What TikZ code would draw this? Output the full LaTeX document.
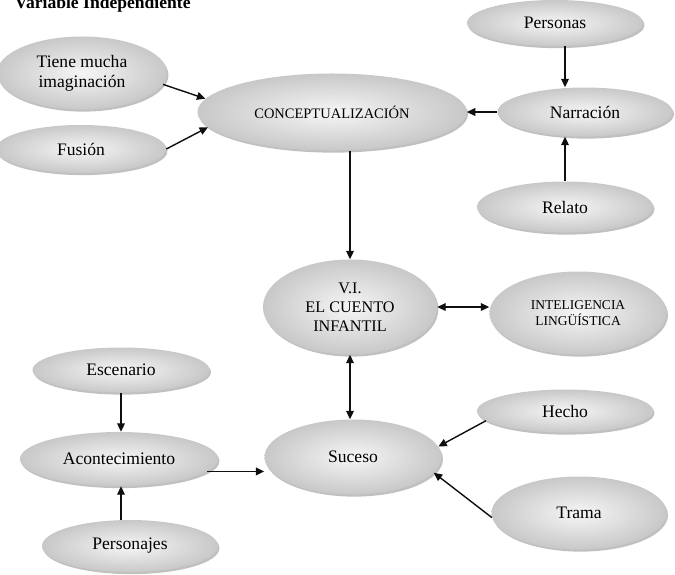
\documentclass[tikz,border=0pt]{standalone}
\usepackage{fontspec}
\setmainfont{Liberation Serif}
\usepackage{tikz}
\usetikzlibrary{shapes.geometric, arrows.meta, shadows}
\definecolor{mydark}{RGB}{15,15,15}
\definecolor{ballin}{RGB}{246,246,246}
\definecolor{ballout}{RGB}{200,200,200}
\definecolor{ballshadow}{RGB}{140,140,140}
\tikzset{
  bubble/.style={ellipse, inner color=ballin, outer color=ballout,
    drop shadow={shadow xshift=1pt, shadow yshift=-1.5pt, fill=ballshadow, opacity=0.55},
    align=center, inner sep=0pt, font=\fontsize{12.5}{14}\selectfont},
  arrow/.style={-{Triangle[length=6pt, width=5.5pt]}, line width=1pt, color=mydark},
  dblarrow/.style={{Triangle[length=6pt, width=5.5pt]}-{Triangle[length=6pt, width=5.5pt]}, line width=1pt, color=mydark}
}

\begin{document}
\begin{tikzpicture}[x=0.025cm, y=-0.025cm]
  \useasboundingbox (0,0) rectangle (675,574);

  % Title (cut at the top edge)
  \node[anchor=base west, font=\bfseries\fontsize{12.5}{14}\selectfont] (title) at (10,8) {Variable Independiente};

  % Upper part
  \node[bubble, minimum width=4.4cm, minimum height=1.15cm] (pers) at (555,23) {Personas};
  \node[bubble, minimum width=4.25cm, minimum height=1.825cm] (tiene) at (82,73) {Tiene mucha\\imaginación};
  \node[bubble, minimum width=4.25cm, minimum height=1.2cm] (fus) at (81,149) {Fusión};
  \node[bubble, minimum width=6.725cm, minimum height=1.925cm, font=\fontsize{10.3}{12}\selectfont] (conc) at (332,112) {CONCEPTUALIZACIÓN};
  \node[bubble, minimum width=4.375cm, minimum height=1.225cm] (narr) at (585,112) {Narración};
  \node[bubble, minimum width=4.4cm, minimum height=1.275cm] (rel) at (565,207) {Relato};

  % Middle part
  \node[bubble, minimum width=4.35cm, minimum height=2.375cm, font=\fontsize{11.5}{13.5}\selectfont] (vi) at (350,307) {V.I.\\EL CUENTO\\INFANTIL};
  \node[bubble, minimum width=4.425cm, minimum height=2.075cm, font=\fontsize{9.6}{11.5}\selectfont] (intel) at (578,313) {INTELIGENCIA\\LINGÜÍSTICA};

  % Lower part
  \node[bubble, minimum width=4.425cm, minimum height=1.125cm] (esc) at (121,370) {Escenario};
  \node[bubble, minimum width=4.95cm, minimum height=1.35cm] (acon) at (119,459) {Acontecimiento};
  \node[bubble, minimum width=4.4cm, minimum height=1.3cm] (perso) at (130,546) {Personajes};
  \node[bubble, minimum width=4.425cm, minimum height=1.875cm] (suc) at (353,457) {Suceso};
  \node[bubble, minimum width=4.4cm, minimum height=1.075cm] (hecho) at (565,411) {Hecho};
  \node[bubble, minimum width=4.375cm, minimum height=1.825cm] (trama) at (579,513) {Trama};

  % Arrows
  \draw[arrow] (tiene.-8) -- (conc.174);
  \draw[arrow] (fus.east) -- (conc.187);
  \draw[arrow] (narr.west) -- (conc.east);
  \draw[arrow] (pers.south -| rel.north) -- (narr.north -| rel.north);
  \draw[arrow] (rel.north) -- (narr.south -| rel.north);
  \draw[arrow] (conc.south -| vi.north) -- (vi.north);
  \draw[dblarrow] (vi.east) -- (vi.east -| intel.west);
  \draw[dblarrow] (vi.south) -- (vi.south |- suc.north);
  \draw[arrow] (esc.south) -- (esc.south |- acon.north);
  \draw[arrow] (perso.north -| esc.south) -- (acon.south -| esc.south);
  \draw[arrow] (acon.-8) -- (acon.-8 -| suc.west);
  \draw[arrow] (hecho.187) -- (suc.7);
  \draw[arrow] (trama.183) -- (suc.-11);
\end{tikzpicture}
\end{document}
